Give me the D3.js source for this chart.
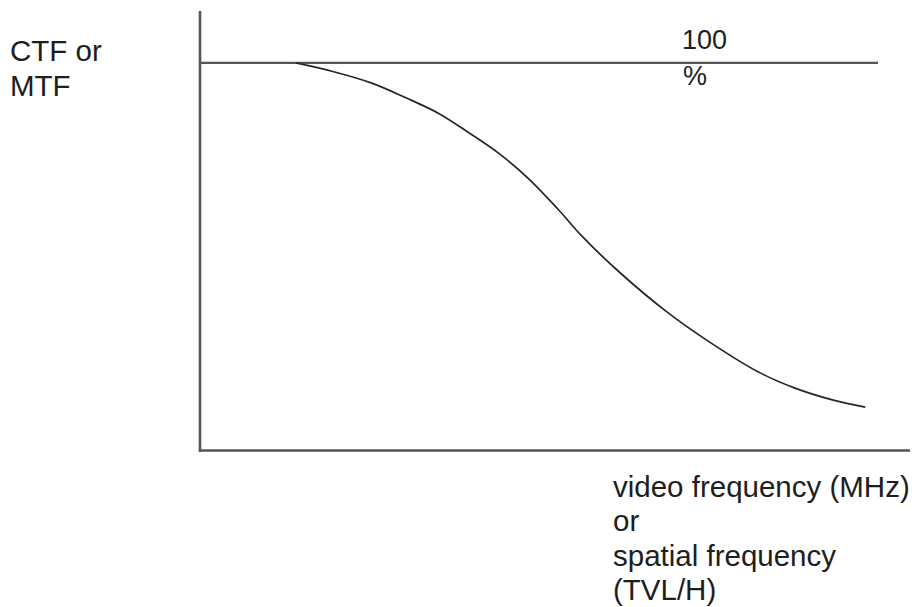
<!DOCTYPE html>
<html>
<head>
<meta charset="utf-8">
<script src="https://cdn.jsdelivr.net/npm/d3@7"></script>
<style>
  html, body { margin: 0; padding: 0; background: #ffffff; }
  svg { display: block; }
  text { font-family: "Liberation Sans", Arial, sans-serif; fill: #1e1e1e; }
</style>
</head>
<body>
<svg id="chart" width="912" height="607"></svg>
<script>
// ---- data ----
const frequency = [13.5, 18.7, 24.2, 29.0, 33.5, 37.7, 42.0, 46.3, 50.4, 53.9, 59.2, 65.8, 72.0, 78.6, 83.8, 89.2, 93.7];
const response  = [100, 97.8, 94.8, 91.0, 87.1, 82.2, 76.8, 70.1, 62.3, 55.1, 45.8, 35.7, 27.7, 20.3, 16.1, 13.0, 11.2];
const referenceLevel = 100;       // 100 % line
const referenceLineEnd = 95.5;    // x where the 100 % line stops
const xDomain = [0, 100];
const yDomain = [0, 113.4];
const yAxisLabel = ["CTF or", "MTF"];
const xAxisLabel = ["video frequency (MHz)", "or", "spatial frequency", "(TVL/H)"];
const refLabel = ["100", "%"];

// ---- layout ----
const svg = d3.select("#chart");
const x = d3.scaleLinear().domain(xDomain).range([200, 910]);
const y = d3.scaleLinear().domain(yDomain).range([450.5, 11]);

const axisColor = "#555555";

// vertical axis
svg.append("line")
  .attr("x1", x(0)).attr("x2", x(0))
  .attr("y1", y(yDomain[1])).attr("y2", y(0) + 1.2)
  .attr("stroke", axisColor).attr("stroke-width", 2.6);

// horizontal axis
svg.append("line")
  .attr("x1", x(0) - 1.2).attr("x2", x(xDomain[1]))
  .attr("y1", y(0)).attr("y2", y(0))
  .attr("stroke", axisColor).attr("stroke-width", 2.6);

// 100 % reference line
svg.append("line")
  .attr("x1", x(0)).attr("x2", x(referenceLineEnd))
  .attr("y1", y(referenceLevel)).attr("y2", y(referenceLevel))
  .attr("stroke", axisColor).attr("stroke-width", 2.2);

// curve
const pts = frequency.map((f, i) => [f, response[i]]);
const line = d3.line()
  .x(d => x(d[0]))
  .y(d => y(d[1]))
  .curve(d3.curveCatmullRom.alpha(0.5));
svg.append("path")
  .attr("d", line(pts))
  .attr("fill", "none")
  .attr("stroke", "#262626")
  .attr("stroke-width", 1.7);

// labels
const fs = 29.5;
const yl = svg.append("text").attr("font-size", fs);
yAxisLabel.forEach((t, i) => {
  yl.append("tspan").attr("x", 10).attr("y", 61 + i * 35).text(t);
});

const rl = svg.append("text").attr("font-size", 27);
rl.append("tspan").attr("x", 682).attr("y", 49).text(refLabel[0]);
rl.append("tspan").attr("x", 683).attr("y", 85).text(refLabel[1]);

const xl = svg.append("text").attr("font-size", fs);
xAxisLabel.forEach((t, i) => {
  xl.append("tspan").attr("x", 613).attr("y", 497 + i * 34.3).text(t);
});
</script>
</body>
</html>
